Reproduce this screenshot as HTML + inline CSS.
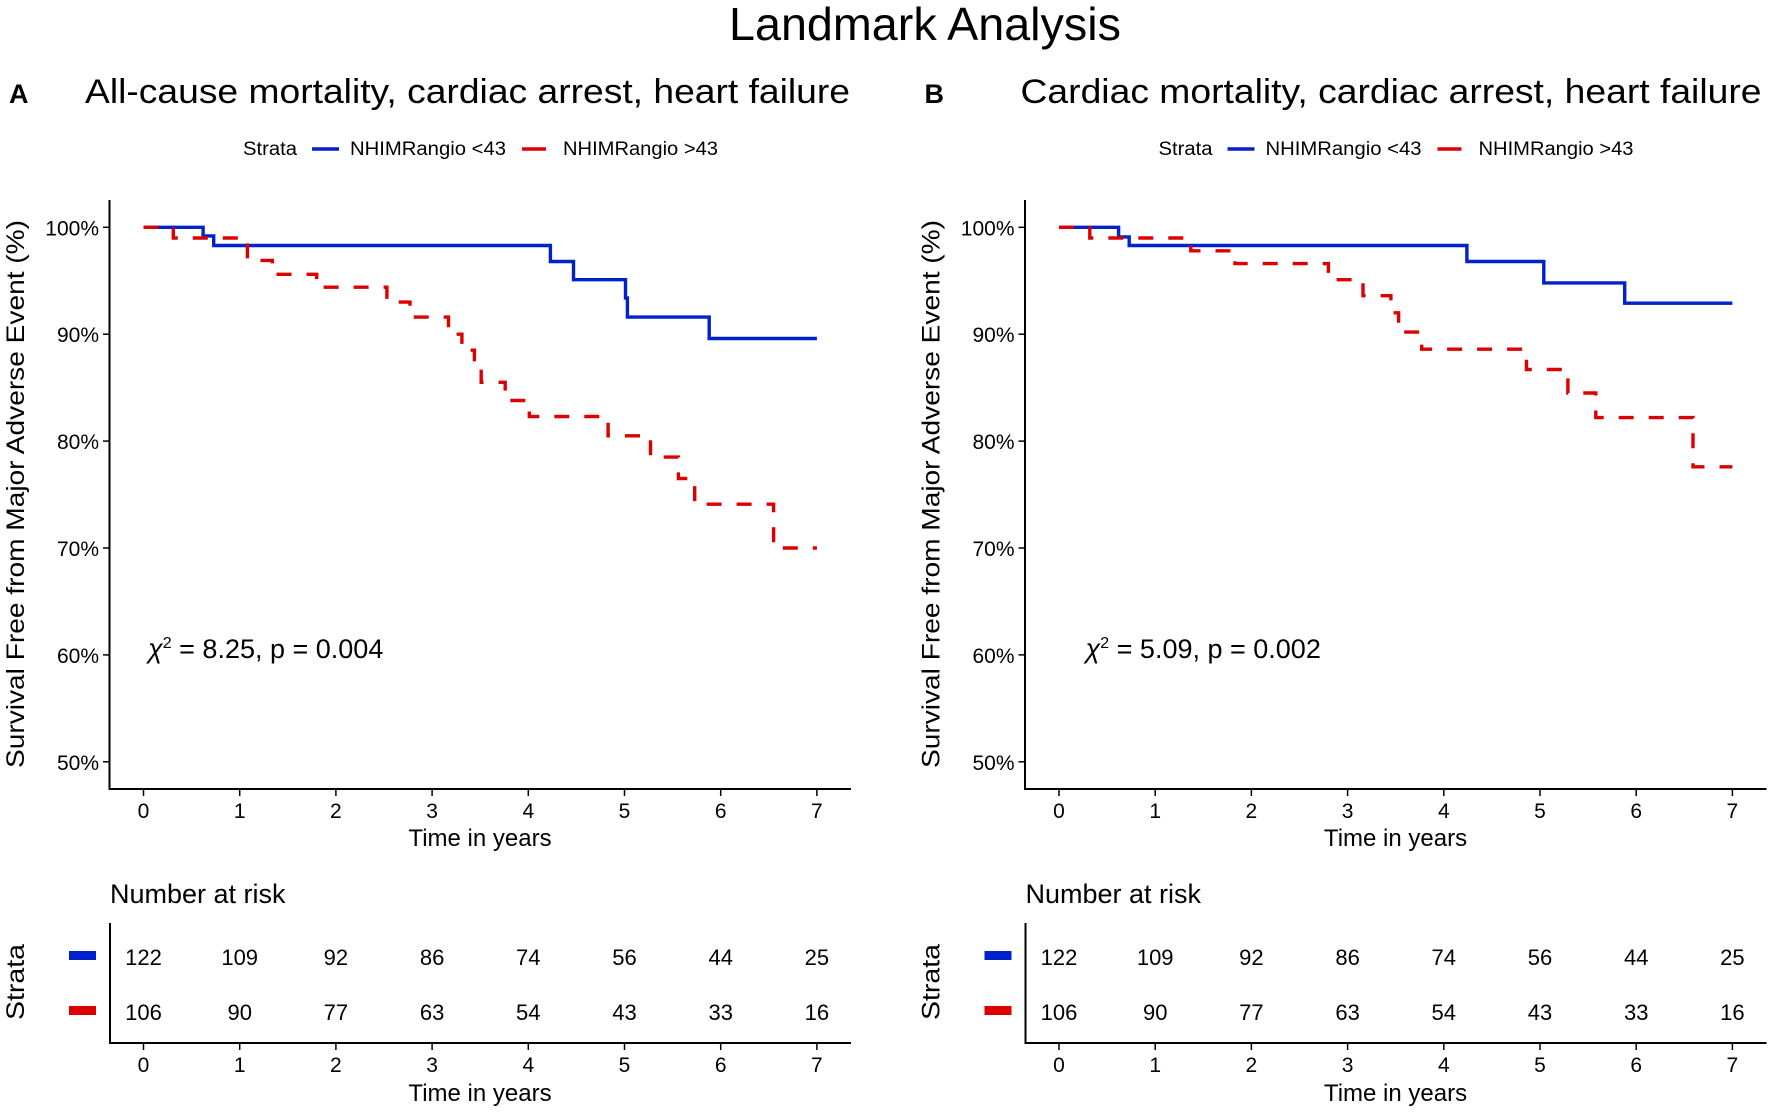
<!DOCTYPE html>
<html><head><meta charset="utf-8"><style>
html,body{margin:0;padding:0;background:#fff;}
svg{display:block;font-family:"Liberation Sans",sans-serif;}
</style></head><body>
<svg id="fig" width="1772" height="1115" viewBox="0 0 1772 1115">
<text x="925" y="40" font-size="46" text-anchor="middle" textLength="392" lengthAdjust="spacingAndGlyphs">Landmark Analysis</text>
</svg>
<script>
const timeTicks = [0,1,2,3,4,5,6,7];
const yTicks = [50,60,70,80,90,100];
const blueTimesA = [0.62,0.73,4.23,4.47,5.01,5.03,5.88];
const blueValsA  = [99.2,98.3,96.8,95.1,93.4,91.6,89.6];
const redTimesA  = [0.31,1.08,1.34,1.80,2.53,2.77,3.17,3.31,3.44,3.51,3.76,4.01,4.83,5.27,5.56,5.73,6.55];
const redValsA   = [99.0,96.9,95.6,94.4,93.0,91.6,90.0,88.5,87.0,85.5,83.8,82.3,80.5,78.5,76.5,74.1,70.0];
const blueTimesB = [0.62,0.73,4.24,5.04,5.88];
const blueValsB  = [99.1,98.3,96.8,94.8,92.9];
const redTimesB  = [0.32,1.37,1.83,2.80,3.16,3.45,3.53,3.77,4.86,5.29,5.58,6.59];
const redValsB   = [99.0,97.8,96.6,95.1,93.6,92.0,90.2,88.6,86.7,84.5,82.2,77.6];
const riskBlue = [122,109,92,86,74,56,44,25];
const riskRed  = [106,90,77,63,54,43,33,16];

const NS="http://www.w3.org/2000/svg";
const svg=document.getElementById('fig');
function mk(tag,attrs,parent,text){const e=document.createElementNS(NS,tag);for(const k in attrs)e.setAttribute(k,attrs[k]);if(text!==undefined)e.textContent=text;(parent||svg).appendChild(e);return e;}
const xS=t=>143.5+t*96.2;
const yS=v=>227.3+(100-v)*10.69;
const SG='spacingAndGlyphs';

function panel(off,letter,title,titleX,titleLen,chi,chiX,bT,bV,rT,rV,key){
  const g=mk('g',{transform:'translate('+off+',0)'});
  
  
  let e=mk('text',{x:9,y:103,'font-size':27,'font-weight':'bold'},g,letter);
  
  e=mk('text',{x:titleX,y:103,'font-size':34,textLength:titleLen,lengthAdjust:SG},g,title);
  
  const lg=mk('g',{},g);
  mk('text',{x:243,y:155,'font-size':19,textLength:54,lengthAdjust:SG},lg,'Strata');
  e=mk('line',{x1:312,x2:339,y1:149,y2:149,stroke:'#0022cc','stroke-width':3.4},lg);
  
  mk('text',{x:350,y:155,'font-size':19,textLength:156,lengthAdjust:SG},lg,'NHIMRangio <43');
  e=mk('line',{x1:522,x2:546,y1:149,y2:149,stroke:'#dd0000','stroke-width':3.4},lg);
  
  mk('text',{x:563,y:155,'font-size':19,textLength:155,lengthAdjust:SG},lg,'NHIMRangio >43');
  mk('line',{x1:109.5,x2:109.5,y1:200,y2:790,stroke:'#000','stroke-width':2},g);
  mk('line',{x1:108.5,x2:851,y1:789,y2:789,stroke:'#000','stroke-width':2},g);
  yTicks.forEach(v=>{
    mk('line',{x1:103,x2:109.5,y1:yS(v),y2:yS(v),stroke:'#000','stroke-width':1.5},g);
    const t=mk('text',{x:99,y:yS(v)+8,'font-size':21,'text-anchor':'end'},g,v+'%');
    
  });
  timeTicks.forEach(t=>{
    mk('line',{x1:xS(t),x2:xS(t),y1:789,y2:796,stroke:'#000','stroke-width':1.5},g);
    const l=mk('text',{x:xS(t),y:818,'font-size':21,'text-anchor':'middle'},g,t);
    
  });
  e=mk('text',{x:480,y:846,'font-size':24,'text-anchor':'middle'},g,'Time in years');
  
  e=mk('text',{transform:'translate(24,494) rotate(-90)','font-size':25,'text-anchor':'middle',textLength:548,lengthAdjust:SG},g,'Survival Free from Major Adverse Event (%)');
  
  e=mk('text',{x:chiX,y:658,'font-size':27},g);
  
  mk('tspan',{'font-style':'italic'},e,'χ');
  mk('tspan',{dy:-10,'font-size':16},e,'2');
  mk('tspan',{dy:10},e,' = '+chi);
  function stepPath(ts,vs){let d='M'+xS(0)+','+yS(100);ts.forEach((t,i)=>{d+=' H'+xS(t).toFixed(1)+' V'+yS(vs[i]).toFixed(1);});d+=' H'+xS(7);return d;}
  e=mk('path',{d:stepPath(bT,bV),fill:'none',stroke:'#0022cc','stroke-width':3.4},g);
  
  e=mk('path',{d:stepPath(rT,rV),fill:'none',stroke:'#dd0000','stroke-width':3.4,'stroke-dasharray':'15 15'},g);
  
  e=mk('text',{x:110,y:903,'font-size':27},g,'Number at risk');
  
  mk('line',{x1:110,x2:110,y1:923,y2:1044,stroke:'#000','stroke-width':2},g);
  mk('line',{x1:109,x2:851,y1:1043,y2:1043,stroke:'#000','stroke-width':2},g);
  e=mk('rect',{x:69,y:951,width:27,height:9,fill:'#0022cc'},g);
  
  e=mk('rect',{x:69,y:1006,width:27,height:9,fill:'#dd0000'},g);
  
  e=mk('text',{transform:'translate(24,982) rotate(-90)','font-size':25,'text-anchor':'middle',textLength:76,lengthAdjust:SG},g,'Strata');
  
  timeTicks.forEach((t,i)=>{
    let c=mk('text',{x:xS(t),y:965,'font-size':22,'text-anchor':'middle'},g,riskBlue[i]);
    
    c=mk('text',{x:xS(t),y:1020,'font-size':22,'text-anchor':'middle'},g,riskRed[i]);
    
    mk('line',{x1:xS(t),x2:xS(t),y1:1043,y2:1050,stroke:'#000','stroke-width':1.5},g);
    c=mk('text',{x:xS(t),y:1072,'font-size':21,'text-anchor':'middle'},g,t);
    
  });
  e=mk('text',{x:480,y:1101,'font-size':24,'text-anchor':'middle'},g,'Time in years');
  
}
panel(0,'A','All-cause mortality, cardiac arrest, heart failure',85,765,'8.25, p = 0.004',148,blueTimesA,blueValsA,redTimesA,redValsA,'a');
panel(915.5,'B','Cardiac mortality, cardiac arrest, heart failure',105,741,'5.09, p = 0.002',170,blueTimesB,blueValsB,redTimesB,redValsB,'b');
</script>
</body></html>
